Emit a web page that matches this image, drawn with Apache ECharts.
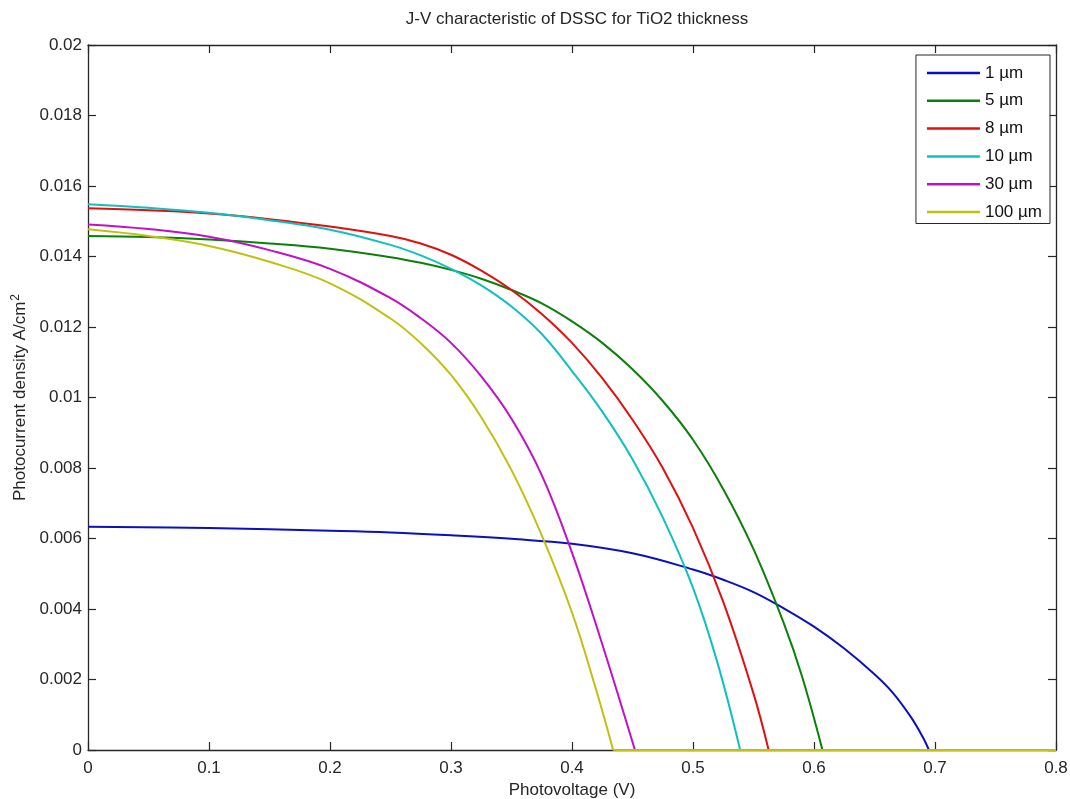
<!DOCTYPE html>
<html>
<head>
<meta charset="utf-8">
<script src="https://cdn.jsdelivr.net/npm/echarts@6/dist/echarts.min.js"></script>
<style>
html,body{margin:0;padding:0;background:#fff;}
#chart{width:1070px;height:799px;}
</style>
</head>
<body>
<div id="chart"></div>
<script>
// ---- data ----
var seriesNames = ['1 µm', '5 µm', '8 µm', '10 µm', '30 µm', '100 µm'];

// each curve ends at its open-circuit voltage; beyond it the current stays at 0 up to xEnd
var v1 = [0, 0.1, 0.2, 0.25, 0.3, 0.35, 0.4, 0.45, 0.5, 0.525, 0.55, 0.575, 0.6, 0.625, 0.65, 0.665, 0.68, 0.69, 0.695];
var j1 = [0.00633, 0.0063, 0.00622, 0.00617, 0.00609, 0.00599, 0.00585, 0.00558, 0.00512, 0.00483, 0.00448, 0.00402, 0.0035, 0.00288, 0.00215, 0.00163, 0.00094, 0.00036, 0];

var v2 = [0, 0.05, 0.1, 0.15, 0.2, 0.25, 0.275, 0.3, 0.325, 0.35, 0.375, 0.4, 0.425, 0.45, 0.475, 0.5, 0.525, 0.55, 0.575, 0.59, 0.607];
var j2 = [0.01458, 0.01455, 0.01448, 0.01437, 0.01422, 0.01398, 0.01382, 0.01362, 0.01337, 0.01305, 0.01267, 0.01216, 0.01155, 0.0108, 0.0099, 0.0088, 0.0074, 0.0057, 0.0036, 0.0021, 0];

var v3 = [0, 0.05, 0.1, 0.15, 0.2, 0.25, 0.275, 0.3, 0.325, 0.35, 0.375, 0.4, 0.425, 0.45, 0.475, 0.5, 0.525, 0.55, 0.5625];
var j3 = [0.01537, 0.01531, 0.01522, 0.01506, 0.01485, 0.01458, 0.01437, 0.01405, 0.0136, 0.01305, 0.01237, 0.01155, 0.01055, 0.00937, 0.008, 0.0063, 0.0042, 0.0016, 0];

var v4 = [0, 0.05, 0.1, 0.15, 0.2, 0.25, 0.275, 0.3, 0.325, 0.35, 0.375, 0.4, 0.425, 0.45, 0.475, 0.5, 0.52, 0.539];
var j4 = [0.01548, 0.01538, 0.01524, 0.01503, 0.01476, 0.01433, 0.01403, 0.01365, 0.01318, 0.01258, 0.0118, 0.01075, 0.0096, 0.00825, 0.0066, 0.0046, 0.0025, 0];

var v5 = [0, 0.05, 0.1, 0.15, 0.2, 0.25, 0.275, 0.3, 0.325, 0.35, 0.375, 0.4, 0.425, 0.452];
var j5 = [0.01491, 0.01478, 0.01456, 0.01418, 0.01365, 0.01282, 0.01225, 0.01155, 0.0106, 0.0094, 0.0078, 0.0056, 0.003, 0];

var v6 = [0, 0.05, 0.1, 0.15, 0.2, 0.25, 0.275, 0.3, 0.325, 0.35, 0.375, 0.4, 0.42, 0.434];
var j6 = [0.01477, 0.01458, 0.0143, 0.01385, 0.01324, 0.01224, 0.01154, 0.01064, 0.00944, 0.00794, 0.00609, 0.0039, 0.0017, 0];

var xEnd = 0.8;
var xTicks = [0, 0.1, 0.2, 0.3, 0.4, 0.5, 0.6, 0.7, 0.8];
var yTicks = [0, 0.002, 0.004, 0.006, 0.008, 0.01, 0.012, 0.014, 0.016, 0.018, 0.02];

var colors = ['#0a10c0', '#0a800a', '#e01010', '#10c0c0', '#c010c8', '#c0c010'];
// ----------------------------------------------

function pairs(v, j) { return v.map(function (x, i) { return [x, j[i]]; }); }
var allV = [v1, v2, v3, v4, v5, v6];
var allJ = [j1, j2, j3, j4, j5, j6];

var FONT = 'Liberation Sans, Arial, sans-serif';
var AX = '#262626';
var FS = 17;

function axisCommon() {
  return {
    axisLine: { show: true, onZero: false, lineStyle: { color: AX, width: 1.3 } },
    axisTick: { show: true, inside: true, length: 8, lineStyle: { color: AX, width: 1.2 } },
    splitLine: { show: false }
  };
}

var xMin = xTicks[0], xMax = xTicks[xTicks.length - 1], xInt = xTicks[1] - xTicks[0];
var yMin = yTicks[0], yMax = yTicks[yTicks.length - 1], yInt = yTicks[1] - yTicks[0];

var series = [];
seriesNames.forEach(function (n, i) {
  series.push({
    name: n, type: 'line', xAxisIndex: 0, yAxisIndex: 0,
    data: pairs(allV[i], allJ[i]),
    symbol: 'none', smooth: 0.4, clip: false,
    lineStyle: { color: colors[i], width: 2 },
    itemStyle: { color: colors[i] },
    z: 2 + i
  });
});
seriesNames.forEach(function (n, i) {
  var voc = allV[i][allV[i].length - 1];
  series.push({
    name: n, type: 'line', xAxisIndex: 0, yAxisIndex: 0,
    data: [[voc, 0], [xEnd, 0]],
    symbol: 'none', clip: false,
    lineStyle: { color: colors[i], width: 2 },
    itemStyle: { color: colors[i] },
    z: 10 + i
  });
});

var chart = echarts.init(document.getElementById('chart'), null, { renderer: 'canvas' });
var option = {
  backgroundColor: '#fff',
  animation: false,
  title: {
    text: 'J-V characteristic of DSSC for TiO2 thickness',
    left: 572, top: 6, textAlign: 'center',
    textStyle: { fontSize: FS, fontWeight: 'normal', color: AX, fontFamily: FONT }
  },
  legend: {
    orient: 'vertical', right: 20, top: 55,
    icon: 'rect',
    itemWidth: 53, itemHeight: 2.5, itemGap: 10.8,
    padding: [9.5, 8, 3, 11],
    borderColor: AX, borderWidth: 1, backgroundColor: '#fff',
    textStyle: { fontSize: FS, color: '#111', fontFamily: FONT, lineHeight: 17 },
    data: seriesNames
  },
  grid: { left: 88, right: 14, top: 45, bottom: 49, containLabel: false, outerBoundsMode: 'none' },
  xAxis: [
    Object.assign({ type: 'value', min: xMin, max: xMax, interval: xInt, position: 'bottom',
      name: 'Photovoltage (V)', nameLocation: 'middle', nameGap: 32,
      nameTextStyle: { fontSize: FS, color: AX, fontFamily: FONT } }, axisCommon(),
      { axisLabel: { show: true, fontSize: FS, color: AX, fontFamily: FONT, margin: 10,
        formatter: function (v) { return String(+v.toFixed(1)); } } }),
    Object.assign({ type: 'value', min: xMin, max: xMax, interval: xInt, position: 'top',
      axisLabel: { show: false } }, axisCommon())
  ],
  yAxis: [
    Object.assign({ type: 'value', min: yMin, max: yMax, interval: yInt, position: 'left',
      name: 'Photocurrent density A/cm{sup|2}', nameLocation: 'middle', nameGap: 48,
      nameTextStyle: { fontSize: FS, color: AX, fontFamily: FONT,
        rich: { sup: { fontSize: 12, color: AX, fontFamily: FONT, verticalAlign: 'top', padding: [0, 0, 9, 1] } } } },
      axisCommon(),
      { axisLabel: { show: true, fontSize: FS, color: AX, fontFamily: FONT, margin: 6,
        formatter: function (v) { return String(+v.toFixed(3)); } } }),
    Object.assign({ type: 'value', min: yMin, max: yMax, interval: yInt, position: 'right',
      axisLabel: { show: false } }, axisCommon())
  ],
  series: series
};
chart.setOption(option);
</script>
</body>
</html>
